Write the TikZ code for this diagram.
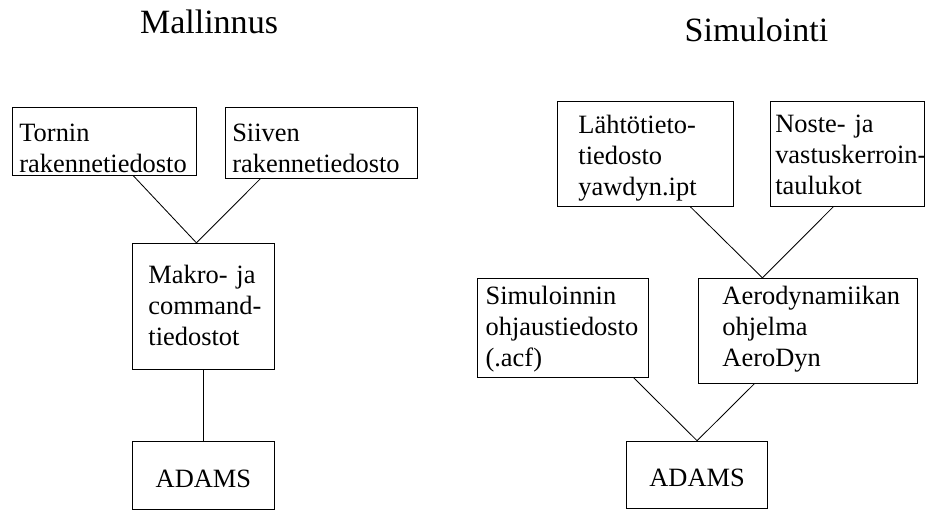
\documentclass[tikz,border=0pt]{standalone}
\usepackage{fontspec}
\setmainfont{Liberation Serif}
\usepackage{tikz}
\usetikzlibrary{positioning}

\newcommand{\boxfont}{\fontsize{18.8}{22}\selectfont}
\newcommand{\headfont}{\fontsize{24.2}{28}\selectfont}

\begin{document}
\begin{tikzpicture}[
    % Define node styles
    line width = 0.6pt,
    box/.style={rectangle, draw, inner sep=0pt, align=left, font=\boxfont},
    adams/.style={rectangle, draw, inner sep=0pt, align=center, font=\boxfont},
    boxsize/.style n args={3}{text width=#1, text height=#2, text depth=#3},
    lskip/.style={execute at begin node={\leftskip=#1}},
    heading/.style={anchor=base, inner sep=0pt, font=\headfont},
]
\useasboundingbox (0,0) rectangle (23.125,-12.75);

% Mallinnus
\node[heading] (mall) at (5.225,-0.825) {Mallinnus};
\node[box, boxsize={4.6cm}{0.85cm}{0.85cm}, lskip=0.175cm, anchor=north west] (tornin) at (0.3,-2.675) {Tornin\\rakennetiedosto};
\node[box, boxsize={4.8cm}{0.85cm}{0.925cm}, lskip=0.175cm, right=0.7cm of tornin.north east, anchor=north west] (siiven) {Siiven\\rakennetiedosto};
\node[box, boxsize={3.55cm}{1.0cm}{2.15cm}, lskip=0.4cm, below right=1.675cm and 3.0cm of tornin.south west] (makro) {Makro- ja\\command-\\tiedostot};
\node[adams, boxsize={3.55cm}{1.15cm}{0.55cm}, below=1.775cm of makro] (adams1) {ADAMS};

% Simulointi
\node[heading] (simu) at (18.9125,-1.025) {Simulointi};
\node[box, boxsize={4.4cm}{0.8cm}{1.825cm}, lskip=0.525cm, anchor=north west] (lahto) at (13.925,-2.525) {Lähtötieto-\\tiedosto\\yawdyn.ipt};
\node[box, boxsize={3.85cm}{0.775cm}{1.85cm}, lskip=0.125cm, right=0.9cm of lahto.north east, anchor=north west] (noste) {Noste- ja\\\mbox{vastuskerroin-}\\taulukot};
\node[box, boxsize={5.475cm}{0.65cm}{1.975cm}, lskip=0.6cm, below right=1.775cm and 3.525cm of lahto.south west] (aero) {Aerodynamiikan\\ohjelma\\AeroDyn};
\node[box, boxsize={4.275cm}{0.65cm}{1.825cm}, lskip=0.2cm, left=1.225cm of aero.north west, anchor=north east] (simul) {Simuloinnin\\ohjaustiedosto\\(.acf)};
\node[adams, boxsize={3.525cm}{1.125cm}{0.55cm}, below right=1.575cm and 3.725cm of simul.south west] (adams2) {ADAMS};

% Connectors
\draw ([xshift=0.725cm]tornin.south) -- ([xshift=-0.175cm]makro.north);
\draw ([xshift=-1.525cm]siiven.south) -- ([xshift=-0.175cm]makro.north);
\draw (makro) -- (adams1);

\draw ([xshift=1.125cm]lahto.south) -- ([xshift=-1.1375cm]aero.north);
\draw ([xshift=-0.35cm]noste.south) -- ([xshift=-1.1375cm]aero.north);
\draw ([xshift=1.7625cm]simul.south) -- (adams2.north);
\draw ([xshift=-1.3375cm]aero.south) -- (adams2.north);

\end{tikzpicture}
\end{document}
